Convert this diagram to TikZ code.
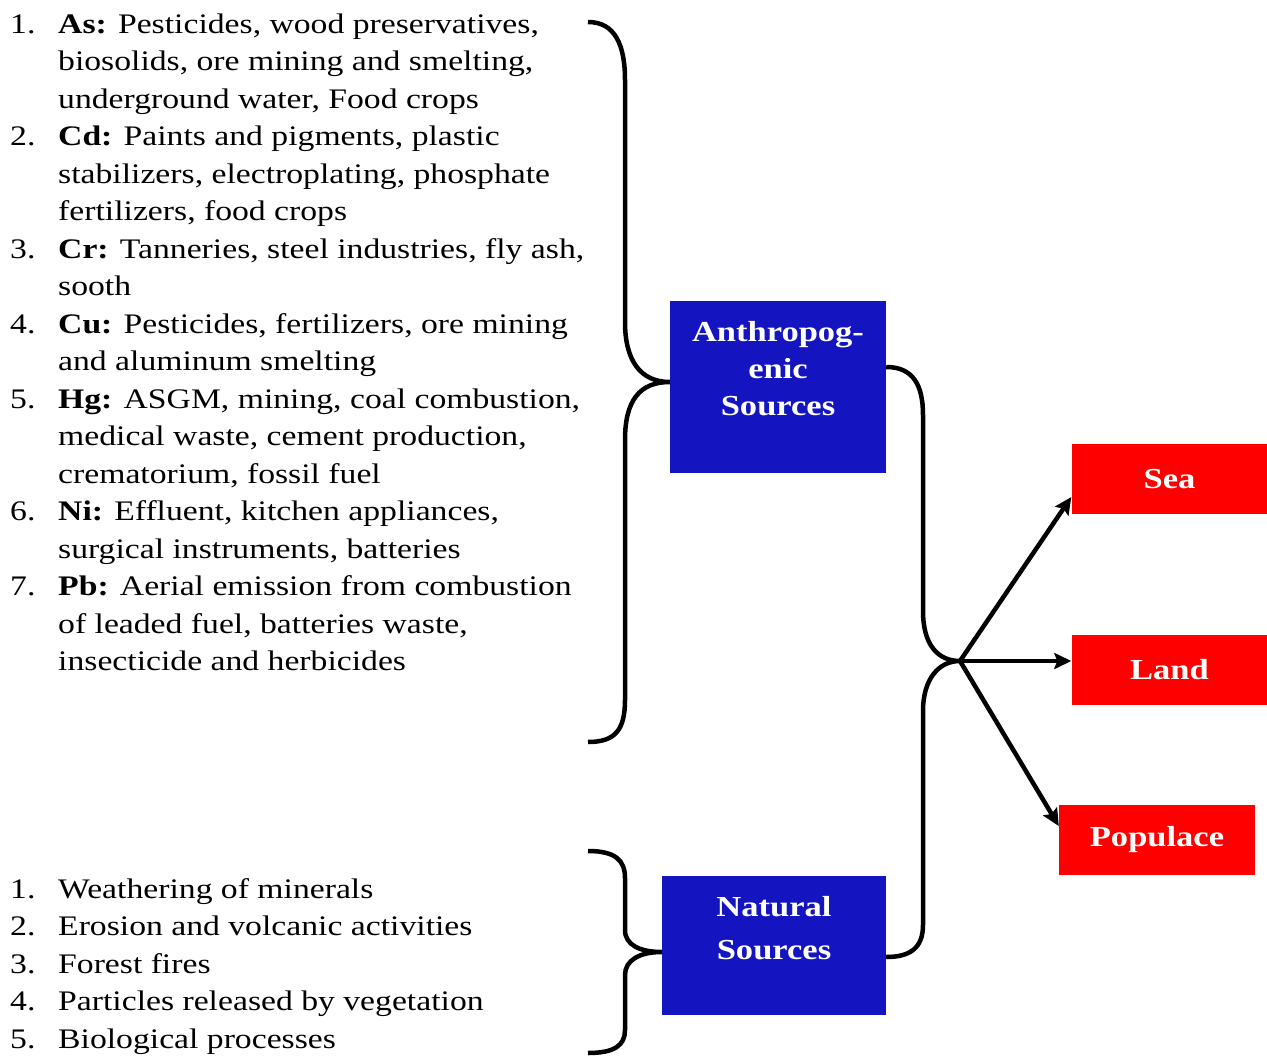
\documentclass[tikz,border=0pt]{standalone}
\usepackage{fontspec}
\setmainfont{Liberation Serif}[FakeStretch=1.19]
\usetikzlibrary{arrows.meta}
\definecolor{bleuS}{RGB}{20, 20, 192}
\definecolor{rougeS}{RGB}{255, 0, 0}
\tikzset{
  num/.style={anchor=north west, inner sep=0pt, font=\fontsize{28.3}{37.5}\selectfont},
  itm/.style={anchor=north west, inner sep=0pt, align=left, font=\fontsize{28.3}{37.5}\selectfont},
  srcbox/.style={fill=bleuS, inner sep=0pt},
  srctxt/.style={anchor=north, inner sep=0pt, align=center, text=white, font=\bfseries\fontsize{29}{37}\selectfont},
  dstbox/.style={fill=rougeS, inner sep=0pt, text=white, minimum width=196pt, minimum height=70pt, font=\bfseries\fontsize{29}{37}\selectfont},
  brace/.style={line width=4.5pt},
  flow/.style={line width=4.5pt, -{Stealth[length=17pt,width=16pt,inset=3pt]}}
}

\begin{document}
\begin{tikzpicture}[x=1pt,y=-1pt]
  \useasboundingbox (0,0) rectangle (1267,1057);
  % anthropogenic list
  \node[num] (n1) at (10,6.75) {\strut 1.};
  \node[itm] (i1) at (58,6.75) {\strut\textbf{As:} Pesticides, wood preservatives,\\biosolids, ore mining and smelting,\\underground water, Food crops};
  \node[num] (n2) at (10,119.25) {\strut 2.};
  \node[itm] (i2) at (58,119.25) {\strut\textbf{Cd:} Paints and pigments, plastic\\stabilizers, electroplating, phosphate\\fertilizers, food crops};
  \node[num] (n3) at (10,231.75) {\strut 3.};
  \node[itm] (i3) at (58,231.75) {\strut\textbf{Cr:} Tanneries, steel industries, fly ash,\\sooth};
  \node[num] (n4) at (10,306.75) {\strut 4.};
  \node[itm] (i4) at (58,306.75) {\strut\textbf{Cu:} Pesticides, fertilizers, ore mining\\and aluminum smelting};
  \node[num] (n5) at (10,381.75) {\strut 5.};
  \node[itm] (i5) at (58,381.75) {\strut\textbf{Hg:} ASGM, mining, coal combustion,\\medical waste, cement production,\\crematorium, fossil fuel};
  \node[num] (n6) at (10,494.25) {\strut 6.};
  \node[itm] (i6) at (58,494.25) {\strut\textbf{Ni:} Effluent, kitchen appliances,\\surgical instruments, batteries};
  \node[num] (n7) at (10,569.25) {\strut 7.};
  \node[itm] (i7) at (58,569.25) {\strut\textbf{Pb:} Aerial emission from combustion\\of leaded fuel, batteries waste,\\insecticide and herbicides};
  % natural list
  \node[num] (m1) at (10,871.75) {\strut 1.};
  \node[itm] (j1) at (58,871.75) {\strut Weathering of minerals};
  \node[num] (m2) at (10,909.25) {\strut 2.};
  \node[itm] (j2) at (58,909.25) {\strut Erosion and volcanic activities};
  \node[num] (m3) at (10,946.75) {\strut 3.};
  \node[itm] (j3) at (58,946.75) {\strut Forest fires};
  \node[num] (m4) at (10,984.25) {\strut 4.};
  \node[itm] (j4) at (58,984.25) {\strut Particles released by vegetation};
  \node[num] (m5) at (10,1021.75) {\strut 5.};
  \node[itm] (j5) at (58,1021.75) {\strut Biological processes};

  % sources
  \node[srcbox, minimum width=216pt, minimum height=172pt] (anthro) at (778,387) {};
  \node[srctxt] (anthrotxt) at ([yshift=-15pt]anthro.north) {\strut Anthropog-\\enic\\Sources};
  \node[srcbox, minimum width=224pt, minimum height=139pt] (natur) at (774,945.5) {};
  \node[srctxt, font=\bfseries\fontsize{29}{43}\selectfont] (naturtxt) at ([yshift=-10pt]natur.north) {\strut Natural\\Sources};

  % receptors
  \node[dstbox] (sea) at (1169.5,479) {Sea};
  \node[dstbox] (land) at (1169.5,670) {Land};
  \node[dstbox] (pop) at (1157,840) {Populace};

  % braces
  \draw[brace] (588,22) .. controls (615,22) and (625,45) .. (625,80) -- (625,322)
    .. controls (625,360) and (640,382) .. (anthro.west |- 0,382)
    .. controls (640,382) and (625,400) .. (625,440) -- (625,700)
    .. controls (625,730) and (615,742) .. (588,742);
  \draw[brace] (588,851) .. controls (615,851) and (625,860) .. (625,878) -- (625,930)
    .. controls (625,945) and (640,952) .. (natur.west |- 0,952)
    .. controls (640,952) and (625,960) .. (625,975) -- (625,1030)
    .. controls (625,1045) and (615,1053) .. (588,1053);
  \coordinate (hub) at (960,661);
  \draw[brace] (anthro.east |- 0,367) .. controls (913,367) and (923,385) .. (923,415) -- (923,611)
    .. controls (923,645) and (938,661) .. (hub)
    .. controls (938,661) and (923,680) .. (923,711) -- (923,925)
    .. controls (923,948) and (910,957) .. (natur.east |- 0,957);

  % arrows
  \draw[flow] (hub) -- (sea.west |- 0,497);
  \draw[flow] (hub) -- (land.west |- hub);
  \draw[flow] (hub) -- (pop.west |- 0,826);
\end{tikzpicture}
\end{document}
